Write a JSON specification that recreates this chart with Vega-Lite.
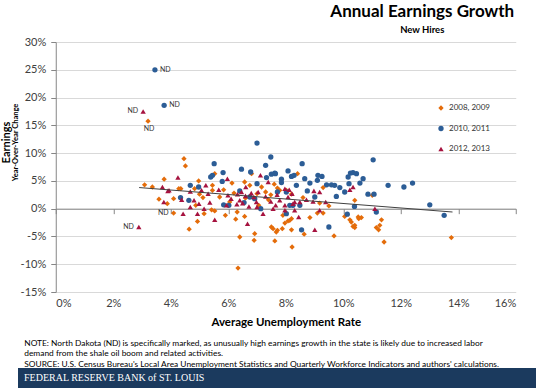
{
  "$schema": "https://vega.github.io/schema/vega-lite/v6.json",
  "padding": {"left": 0, "top": 2, "right": 0, "bottom": 0},
  "background": "white",
  "spacing": 0,
  "center": true,
  "config": {"font": "Lato", "view": {"stroke": null}},
  "datasets": {
    "pts": [
      {"s":"2008, 2009","u":3.21,"e":15.75,"nd":"ND"},{"s":"2008, 2009","u":4.10,"e":-0.8,"nd":"ND"},
      {"s":"2008, 2009","u":3.09,"e":4.3},{"s":"2008, 2009","u":3.36,"e":3.9},{"s":"2008, 2009","u":3.77,"e":5.3},{"s":"2008, 2009","u":3.59,"e":1.7},{"s":"2008, 2009","u":3.88,"e":0.9},{"s":"2008, 2009","u":4.10,"e":1.8},{"s":"2008, 2009","u":4.28,"e":3.6},{"s":"2008, 2009","u":4.35,"e":3.6},{"s":"2008, 2009","u":4.46,"e":9.0},{"s":"2008, 2009","u":4.51,"e":7.7},{"s":"2008, 2009","u":4.64,"e":-3.7},{"s":"2008, 2009","u":4.83,"e":3.6},{"s":"2008, 2009","u":4.93,"e":-2.3},{"s":"2008, 2009","u":4.97,"e":5.0},{"s":"2008, 2009","u":5.12,"e":2.0},{"s":"2008, 2009","u":5.16,"e":-0.9},{"s":"2008, 2009","u":5.42,"e":-0.2},{"s":"2008, 2009","u":5.45,"e":4.2},{"s":"2008, 2009","u":5.53,"e":6.3},{"s":"2008, 2009","u":5.53,"e":-0.4},{"s":"2008, 2009","u":5.70,"e":2.1},{"s":"2008, 2009","u":5.84,"e":3.4},{"s":"2008, 2009","u":6.13,"e":4.6},{"s":"2008, 2009","u":6.05,"e":1.2},{"s":"2008, 2009","u":6.26,"e":-1.9},{"s":"2008, 2009","u":6.31,"e":-0.6},{"s":"2008, 2009","u":6.40,"e":-5.1},{"s":"2008, 2009","u":6.34,"e":-10.7},{"s":"2008, 2009","u":6.57,"e":-1.4},{"s":"2008, 2009","u":6.57,"e":4.8},{"s":"2008, 2009","u":6.75,"e":4.2},{"s":"2008, 2009","u":6.81,"e":6.3},{"s":"2008, 2009","u":6.90,"e":-5.7},{"s":"2008, 2009","u":6.92,"e":-4.5},{"s":"2008, 2009","u":7.06,"e":0.6},{"s":"2008, 2009","u":7.16,"e":3.9},{"s":"2008, 2009","u":7.56,"e":-3.6},{"s":"2008, 2009","u":7.50,"e":-3.3},{"s":"2008, 2009","u":7.62,"e":-5.8},{"s":"2008, 2009","u":7.71,"e":-3.9},{"s":"2008, 2009","u":7.88,"e":-3.6},{"s":"2008, 2009","u":7.90,"e":-1.2},{"s":"2008, 2009","u":8.08,"e":-2.2},{"s":"2008, 2009","u":8.22,"e":-6.9},{"s":"2008, 2009","u":8.20,"e":-1.8},{"s":"2008, 2009","u":7.30,"e":3.0},{"s":"2008, 2009","u":7.48,"e":2.5},{"s":"2008, 2009","u":7.71,"e":3.7},{"s":"2008, 2009","u":7.79,"e":3.3},{"s":"2008, 2009","u":8.02,"e":3.3},{"s":"2008, 2009","u":8.20,"e":2.6},{"s":"2008, 2009","u":4.87,"e":0.6},{"s":"2008, 2009","u":5.45,"e":3.3},
      {"s":"2008, 2009","u":8.41,"e":6.3},{"s":"2008, 2009","u":9.30,"e":3.8},{"s":"2008, 2009","u":9.18,"e":1.0},{"s":"2008, 2009","u":10.40,"e":1.5},{"s":"2008, 2009","u":10.23,"e":-2.0},{"s":"2008, 2009","u":10.28,"e":-2.4},{"s":"2008, 2009","u":10.34,"e":-3.2},{"s":"2008, 2009","u":10.40,"e":-3.4},{"s":"2008, 2009","u":10.54,"e":-1.8},{"s":"2008, 2009","u":10.63,"e":-1.6},{"s":"2008, 2009","u":10.05,"e":-1.4},{"s":"2008, 2009","u":9.68,"e":-4.9},{"s":"2008, 2009","u":8.64,"e":-4.6},{"s":"2008, 2009","u":8.14,"e":-2.1},{"s":"2008, 2009","u":8.84,"e":-1.6},{"s":"2008, 2009","u":9.10,"e":-0.8},{"s":"2008, 2009","u":9.30,"e":-0.8},{"s":"2008, 2009","u":7.97,"e":-2.6},{"s":"2008, 2009","u":8.20,"e":-3.8},{"s":"2008, 2009","u":11.15,"e":-3.4},{"s":"2008, 2009","u":11.27,"e":-3.0},{"s":"2008, 2009","u":11.33,"e":-2.0},{"s":"2008, 2009","u":11.42,"e":-6.0},{"s":"2008, 2009","u":13.76,"e":-5.2},{"s":"2008, 2009","u":11.23,"e":-3.8},{"s":"2008, 2009","u":10.52,"e":-1.5},{"s":"2008, 2009","u":10.40,"e":-3.0},{"s":"2008, 2009","u":11.01,"e":2.4},{"s":"2008, 2009","u":7.67,"e":-4.2},
      {"s":"2008, 2009","u":6.2,"e":2.8},{"s":"2008, 2009","u":6.6,"e":1.9},{"s":"2008, 2009","u":7.0,"e":2.7},{"s":"2008, 2009","u":7.4,"e":1.6},{"s":"2008, 2009","u":7.6,"e":4.4},{"s":"2008, 2009","u":5.0,"e":2.6},{"s":"2008, 2009","u":5.9,"e":-1.2},{"s":"2008, 2009","u":8.6,"e":2.0},{"s":"2008, 2009","u":9.5,"e":0.5},
      {"s":"2010, 2011","u":3.45,"e":25.0,"nd":"ND"},{"s":"2010, 2011","u":3.77,"e":18.6,"nd":"ND"},
      {"s":"2010, 2011","u":4.68,"e":4.2},{"s":"2010, 2011","u":4.97,"e":3.9},{"s":"2010, 2011","u":4.34,"e":2.0},{"s":"2010, 2011","u":4.63,"e":1.5},{"s":"2010, 2011","u":5.51,"e":8.1},{"s":"2010, 2011","u":5.39,"e":5.7},{"s":"2010, 2011","u":5.45,"e":6.0},{"s":"2010, 2011","u":5.82,"e":6.5},{"s":"2010, 2011","u":5.79,"e":4.9},{"s":"2010, 2011","u":5.84,"e":0.7},{"s":"2010, 2011","u":6.40,"e":3.2},{"s":"2010, 2011","u":6.46,"e":7.1},{"s":"2010, 2011","u":6.78,"e":6.6},{"s":"2010, 2011","u":7.00,"e":11.8},{"s":"2010, 2011","u":7.30,"e":7.8},{"s":"2010, 2011","u":7.48,"e":9.3},{"s":"2010, 2011","u":7.33,"e":5.6},{"s":"2010, 2011","u":7.50,"e":6.2},{"s":"2010, 2011","u":7.64,"e":6.3},{"s":"2010, 2011","u":7.85,"e":5.3},{"s":"2010, 2011","u":7.85,"e":4.7},{"s":"2010, 2011","u":8.20,"e":5.8},{"s":"2010, 2011","u":7.71,"e":3.0},{"s":"2010, 2011","u":8.02,"e":3.0},{"s":"2010, 2011","u":7.00,"e":4.5},{"s":"2010, 2011","u":6.92,"e":1.8},{"s":"2010, 2011","u":6.75,"e":2.1},{"s":"2010, 2011","u":6.02,"e":0.6},{"s":"2010, 2011","u":6.55,"e":1.1},{"s":"2010, 2011","u":7.13,"e":0.0},{"s":"2010, 2011","u":8.02,"e":-0.9},{"s":"2010, 2011","u":8.25,"e":0.6},
      {"s":"2010, 2011","u":11.04,"e":8.8},{"s":"2010, 2011","u":8.57,"e":8.1},{"s":"2010, 2011","u":8.08,"e":6.8},{"s":"2010, 2011","u":8.29,"e":6.0},{"s":"2010, 2011","u":8.37,"e":4.2},{"s":"2010, 2011","u":8.66,"e":5.4},{"s":"2010, 2011","u":8.84,"e":4.6},{"s":"2010, 2011","u":8.75,"e":3.2},{"s":"2010, 2011","u":9.12,"e":6.0},{"s":"2010, 2011","u":9.26,"e":5.8},{"s":"2010, 2011","u":9.10,"e":5.1},{"s":"2010, 2011","u":9.42,"e":4.3},{"s":"2010, 2011","u":9.59,"e":4.3},{"s":"2010, 2011","u":9.70,"e":4.2},{"s":"2010, 2011","u":9.88,"e":3.8},{"s":"2010, 2011","u":9.76,"e":2.2},{"s":"2010, 2011","u":10.05,"e":3.0},{"s":"2010, 2011","u":10.17,"e":5.7},{"s":"2010, 2011","u":10.25,"e":6.4},{"s":"2010, 2011","u":10.34,"e":6.5},{"s":"2010, 2011","u":10.46,"e":6.3},{"s":"2010, 2011","u":10.58,"e":4.6},{"s":"2010, 2011","u":10.69,"e":5.4},{"s":"2010, 2011","u":10.20,"e":4.5},{"s":"2010, 2011","u":10.39,"e":0.4},{"s":"2010, 2011","u":10.14,"e":-1.0},{"s":"2010, 2011","u":10.86,"e":2.6},{"s":"2010, 2011","u":11.07,"e":2.6},{"s":"2010, 2011","u":11.15,"e":-0.6},{"s":"2010, 2011","u":11.56,"e":4.2},{"s":"2010, 2011","u":12.11,"e":3.9},{"s":"2010, 2011","u":12.41,"e":4.6},{"s":"2010, 2011","u":9.50,"e":-3.3},{"s":"2010, 2011","u":8.55,"e":-3.8},{"s":"2010, 2011","u":8.14,"e":0.6},{"s":"2010, 2011","u":8.49,"e":0.6},{"s":"2010, 2011","u":9.01,"e":2.1},{"s":"2010, 2011","u":13.01,"e":0.7},{"s":"2010, 2011","u":13.51,"e":-1.2},{"s":"2010, 2011","u":7.62,"e":6.4},
      {"s":"2012, 2013","u":3.04,"e":17.5,"nd":"ND"},{"s":"2012, 2013","u":2.89,"e":-3.3,"nd":"ND"},
      {"s":"2012, 2013","u":3.90,"e":3.2},{"s":"2012, 2013","u":3.76,"e":1.2},{"s":"2012, 2013","u":4.25,"e":5.6},{"s":"2012, 2013","u":3.71,"e":3.9},{"s":"2012, 2013","u":3.94,"e":3.3},{"s":"2012, 2013","u":4.38,"e":1.6},{"s":"2012, 2013","u":4.43,"e":-0.9},{"s":"2012, 2013","u":4.68,"e":3.1},{"s":"2012, 2013","u":4.68,"e":0.3},{"s":"2012, 2013","u":4.93,"e":-0.9},{"s":"2012, 2013","u":4.81,"e":1.5},{"s":"2012, 2013","u":5.07,"e":3.3},{"s":"2012, 2013","u":5.22,"e":4.2},{"s":"2012, 2013","u":5.30,"e":2.7},{"s":"2012, 2013","u":4.98,"e":0.9},{"s":"2012, 2013","u":5.16,"e":0.0},{"s":"2012, 2013","u":5.36,"e":1.1},{"s":"2012, 2013","u":5.53,"e":-2.0},{"s":"2012, 2013","u":5.67,"e":3.4},{"s":"2012, 2013","u":5.97,"e":5.4},{"s":"2012, 2013","u":5.99,"e":2.4},{"s":"2012, 2013","u":5.94,"e":0.6},{"s":"2012, 2013","u":6.32,"e":2.6},{"s":"2012, 2013","u":6.40,"e":1.5},{"s":"2012, 2013","u":6.46,"e":3.0},{"s":"2012, 2013","u":6.61,"e":3.9},{"s":"2012, 2013","u":6.67,"e":-2.7},{"s":"2012, 2013","u":6.72,"e":0.4},{"s":"2012, 2013","u":6.89,"e":2.1},{"s":"2012, 2013","u":6.98,"e":1.2},{"s":"2012, 2013","u":7.04,"e":3.0},{"s":"2012, 2013","u":7.12,"e":6.0},{"s":"2012, 2013","u":7.21,"e":-0.9},{"s":"2012, 2013","u":7.39,"e":4.8},{"s":"2012, 2013","u":7.48,"e":1.3},{"s":"2012, 2013","u":7.56,"e":0.0},{"s":"2012, 2013","u":7.65,"e":0.6},{"s":"2012, 2013","u":7.79,"e":1.5},{"s":"2012, 2013","u":7.97,"e":3.6},{"s":"2012, 2013","u":7.97,"e":0.6},{"s":"2012, 2013","u":8.08,"e":2.1},{"s":"2012, 2013","u":8.25,"e":0.9},
      {"s":"2012, 2013","u":8.12,"e":3.4},{"s":"2012, 2013","u":8.22,"e":2.7},{"s":"2012, 2013","u":8.31,"e":1.2},{"s":"2012, 2013","u":7.97,"e":-0.3},{"s":"2012, 2013","u":8.31,"e":-0.3},{"s":"2012, 2013","u":8.49,"e":1.2},{"s":"2012, 2013","u":8.72,"e":1.6},{"s":"2012, 2013","u":8.95,"e":1.3},{"s":"2012, 2013","u":8.98,"e":3.2},{"s":"2012, 2013","u":9.18,"e":3.0},{"s":"2012, 2013","u":9.18,"e":-0.3},{"s":"2012, 2013","u":9.39,"e":1.2},{"s":"2012, 2013","u":9.01,"e":-3.8},{"s":"2012, 2013","u":8.45,"e":-1.5},{"s":"2012, 2013","u":10.23,"e":3.4},{"s":"2012, 2013","u":10.34,"e":3.9},{"s":"2012, 2013","u":11.10,"e":0.0},
      {"s":"2012, 2013","u":6.1,"e":1.8},{"s":"2012, 2013","u":6.3,"e":0.8},{"s":"2012, 2013","u":6.6,"e":2.3},{"s":"2012, 2013","u":6.8,"e":2.8},{"s":"2012, 2013","u":7.3,"e":2.2},{"s":"2012, 2013","u":7.0,"e":0.3},{"s":"2012, 2013","u":7.7,"e":2.5},{"s":"2012, 2013","u":6.5,"e":1.0}
    ],
    "trend": [{"u": 2.9, "e": 3.8}, {"u": 13.8, "e": -0.6}],
    "band": [{"label": "FEDERAL RESERVE BANK of ST. LOUIS"}]
  },
  "vconcat": [
    {
      "width": 460,
      "height": 250,
      "title": {
        "text": "Annual Earnings Growth",
        "subtitle": "New Hires",
        "anchor": "end",
        "align": "center",
        "dx": -94,
        "offset": 1,
        "font": "Lato",
        "fontSize": 17,
        "fontWeight": "bold",
        "color": "#000000",
        "subtitleFont": "Lato",
        "subtitleFontSize": 9.5,
        "subtitleFontWeight": "bold",
        "subtitleColor": "#000000",
        "subtitlePadding": 4
      },
      "resolve": {"axis": {"x": "independent", "y": "independent"}},
      "layer": [
        {
          "data": {"name": "pts"},
          "mark": {"type": "point", "filled": true, "opacity": 1, "size": 28},
          "encoding": {
            "x": {
              "field": "u", "type": "quantitative",
              "scale": {"domain": [0, 16], "nice": false, "zero": false},
              "axis": {
                "orient": "bottom", "offset": -83.33,
                "values": [0, 2, 4, 6, 8, 10, 12, 14, 16],
                "labelExpr": "datum.value + '%'",
                "grid": false,
                "domainColor": "#868686", "tickColor": "#868686", "tickSize": 5,
                "labelPadding": 84, "labelFontSize": 11, "labelColor": "#404040", "labelFont": "Lato",
                "title": "Average Unemployment Rate", "titleFont": "Lato", "titleFontSize": 11.5, "titleFontWeight": "bold", "titleColor": "#000000", "titlePadding": 8
              }
            },
            "y": {
              "field": "e", "type": "quantitative",
              "scale": {"domain": [-15, 30], "nice": false, "zero": false},
              "axis": {
                "values": [-15, -10, -5, 0, 5, 10, 15, 20, 25, 30],
                "labelExpr": "datum.value + '%'",
                "grid": true, "gridColor": "#D9D9D9",
                "domainColor": "#868686", "tickColor": "#868686", "tickSize": 5,
                "labelPadding": 5, "labelFontSize": 11, "labelColor": "#404040", "labelFont": "Lato",
                "title": "Earnings", "titleFont": "Lato", "titleFontSize": 11, "titleFontWeight": "bold", "titleColor": "#000000",
                "titleAlign": "center", "titleX": -44, "titleY": 100
              }
            },
            "color": {
              "field": "s", "type": "nominal",
              "scale": {"domain": ["2008, 2009", "2010, 2011", "2012, 2013"], "range": ["#E46C0A", "#2C5D96", "#A6123F"]},
              "legend": {"orient": "none", "legendX": 419, "legendY": 62, "title": null, "labelFontSize": 8, "labelFont": "Lato", "labelColor": "#333333", "symbolSize": 28, "rowPadding": 8.5, "symbolOpacity": 1}
            },
            "shape": {
              "field": "s", "type": "nominal",
              "scale": {"domain": ["2008, 2009", "2010, 2011", "2012, 2013"], "range": ["diamond", "circle", "triangle-up"]},
              "legend": {"orient": "none", "legendX": 419, "legendY": 62, "title": null, "labelFontSize": 8, "labelFont": "Lato", "labelColor": "#333333", "symbolSize": 28, "rowPadding": 8.5, "symbolOpacity": 1}
            }
          }
        },
        {
          "data": {"name": "trend"},
          "mark": {"type": "line", "color": "#404040", "strokeWidth": 1},
          "encoding": {
            "x": {
              "field": "u", "type": "quantitative",
              "scale": {"domain": [0, 16], "nice": false, "zero": false},
              "axis": {
                "orient": "bottom", "labels": false, "ticks": false, "domain": false, "grid": false,
                "title": ["NOTE: North Dakota (ND) is specifically marked, as unusually high earnings growth in the state is likely due to increased labor", "demand from the shale oil boom and related activities.", "SOURCE: U.S. Census Bureau's Local Area Unemployment Statistics and Quarterly Workforce Indicators and authors' calculations."],
                "titleFont": "Lato", "titleFontSize": 8.4, "titleFontWeight": "normal", "titleColor": "#000000",
                "titleAnchor": "start", "titleAlign": "left", "titleBaseline": "top", "titleLineHeight": 10.5,
                "titleX": -32, "titleY": 46
              }
            },
            "y": {
              "field": "e", "type": "quantitative",
              "scale": {"domain": [-15, 30], "nice": false, "zero": false},
              "axis": {
                "orient": "left", "labels": false, "ticks": false, "domain": false, "grid": false,
                "title": "Year-Over-Year Change", "titleFont": "Lato", "titleFontSize": 7.5, "titleFontWeight": "bold", "titleColor": "#000000",
                "titleAlign": "center", "titleX": -36, "titleY": 100
              }
            }
          }
        },
        {
          "data": {"name": "pts"},
          "transform": [{"filter": "datum.nd == 'ND' && datum.s == '2010, 2011'"}],
          "mark": {"type": "text", "align": "left", "baseline": "middle", "dx": 5, "fontSize": 7, "color": "#333333", "font": "Lato"},
          "encoding": {
            "x": {"field": "u", "type": "quantitative", "axis": null},
            "y": {"field": "e", "type": "quantitative", "axis": null},
            "text": {"field": "nd"}
          }
        },
        {
          "data": {"name": "pts"},
          "transform": [{"filter": "datum.nd == 'ND' && (datum.s == '2012, 2013' || datum.e < 0)"}],
          "mark": {"type": "text", "align": "right", "baseline": "middle", "dx": -5, "fontSize": 7, "color": "#333333", "font": "Lato"},
          "encoding": {
            "x": {"field": "u", "type": "quantitative", "axis": null},
            "y": {"field": "e", "type": "quantitative", "axis": null},
            "text": {"field": "nd"}
          }
        },
        {
          "data": {"name": "pts"},
          "transform": [{"filter": "datum.nd == 'ND' && datum.s == '2008, 2009' && datum.e > 0"}],
          "mark": {"type": "text", "align": "center", "baseline": "middle", "dy": 8, "dx": 1, "fontSize": 7, "color": "#333333", "font": "Lato"},
          "encoding": {
            "x": {"field": "u", "type": "quantitative", "axis": null},
            "y": {"field": "e", "type": "quantitative", "axis": null},
            "text": {"field": "nd"}
          }
        }
      ]
    },
    {
      "width": 536,
      "height": 20,
      "data": {"name": "band"},
      "mark": {"type": "rect", "color": "#1B3A5E"},
      "encoding": {},
      "title": {
        "text": {"expr": "'FEDERAL RESERVE BANK of ST. LOUIS'"},
        "orient": "bottom", "anchor": "start", "offset": -15, "dx": 6,
        "font": "Liberation Serif", "fontSize": 10, "fontWeight": "normal", "color": "#FFFFFF", "zindex": 1
      }
    }
  ]
}
